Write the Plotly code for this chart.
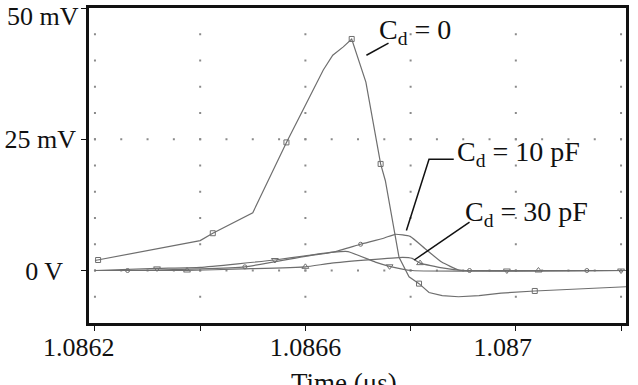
import numpy as np
import plotly.graph_objects as go

# ---------------- data (time in microseconds, voltage in mV) ----------------
# Cd = 0 (square markers)
t_c0 = [1.0862, 1.0864, 1.086424, 1.0865, 1.086564, 1.086634, 1.086652, 1.086672, 1.086688,
        1.086702, 1.086715, 1.086743, 1.086752, 1.086778, 1.086797, 1.086816, 1.086835,
        1.08686, 1.086891, 1.08693, 1.086972, 1.087036, 1.0872094]
v_c0 = [1.9, 5.7, 7.1, 11.0, 24.4, 38.2, 41.0, 42.6, 44.1,
        40.0, 35.9, 20.3, 17.1, 2.5, -1.2, -2.5, -4.2,
        -4.8, -5.0, -4.8, -4.3, -3.9, -3.1]
mt_c0 = [1.086206, 1.086424, 1.086564, 1.086688, 1.086743, 1.086816, 1.087036]
mv_c0 = [2.0, 7.1, 24.4, 44.1, 20.3, -2.5, -3.9]

# Cd = 10 pF (circle markers)
t_c10 = [1.0862, 1.086262, 1.0864, 1.086485, 1.0866, 1.086653, 1.086705, 1.08675,
         1.086771, 1.086799, 1.086827, 1.086859, 1.086891, 1.086903, 1.0872094]
v_c10 = [0.0, 0.0, 0.3, 0.7, 2.7, 3.5, 5.0, 6.2,
         6.9, 6.5, 4.2, 1.6, 0.1, 0.0, 0.0]
mt_c10 = [1.086262, 1.086485, 1.086705, 1.086912, 1.087135]
mv_c10 = [0.0, 0.7, 5.0, 0.0, 0.0]

# unlabeled curve (down-triangle markers)
t_cx = [1.0862, 1.086318, 1.0864, 1.086542, 1.0866, 1.086653, 1.086681, 1.086733,
        1.08676, 1.086803, 1.0872094]
v_cx = [0.0, 0.4, 0.6, 2.0, 2.8, 3.5, 3.6, 1.6,
        0.8, 0.0, 0.0]
mt_cx = [1.086318, 1.086542, 1.08676, 1.086983, 1.0872]
mv_cx = [0.4, 2.0, 0.8, 0.0, 0.0]

# Cd = 30 pF (up-triangle markers)
t_c30 = [1.0862, 1.086375, 1.08648, 1.0866, 1.08665, 1.086785, 1.086803, 1.086818,
         1.08686, 1.086902, 1.0872094]
v_c30 = [0.0, 0.0, 0.3, 0.7, 1.4, 2.5, 2.3, 1.4,
         0.5, 0.0, 0.0]
mt_c30 = [1.086375, 1.0866, 1.086818, 1.087043]
mv_c30 = [0.0, 0.7, 1.4, 0.0]

# axis ticks
x_ticks = [1.0862, 1.0864, 1.0866, 1.0868, 1.0870, 1.0872]
x_ticklabels = ["1.0862\u00a0\u00a0\u00a0\u00a0\u00a0", "", "1.0866", "",
                "1.087\u00a0\u00a0\u00a0\u00a0", ""]
y_ticks = [0, 25, 50]
y_ticklabels = ["0 V\u00a0\u00a0", "25 mV", ""]

# labels with leader lines
lab_text = ["C<sub>d</sub> = 0", "C<sub>d</sub> = 10 pF", "C<sub>d</sub> = 30 pF"]
lab_t = [1.086736, 1.086885, 1.086900]
lab_v = [45.6, 22.2, 10.8]
lead_t = [[1.086716, 1.086758], [1.086792, 1.086835, 1.086882], [1.086807, 1.086912]]
lead_v = [[41.0, 43.3], [7.6, 21.2, 21.2], [2.0, 9.2]]

XR = [1.0861887, 1.0872094]
YR = [-10, 50]
FONT = "Liberation Serif, Times New Roman, serif"
CURVE = "#6e6e6e"

fig = go.Figure()

# dotted grid
gx, gy = [], []
for xv in x_ticks:
    for yv in np.arange(-5, 50, 5):
        gx.append(xv); gy.append(yv)
for yv in [0, 25]:
    for xv in np.arange(x_ticks[0], x_ticks[-1] + 1e-9, 0.00005):
        gx.append(xv); gy.append(yv)
fig.add_trace(go.Scatter(x=gx, y=gy, mode="markers", hoverinfo="skip",
                         marker=dict(size=2, color="#8a8a8a", symbol="square"),
                         showlegend=False))

series = [
    (t_c0, v_c0, mt_c0, mv_c0, "square-open", 5, "linear"),
    (t_c10, v_c10, mt_c10, mv_c10, "circle-open", 4, "spline"),
    (t_cx, v_cx, mt_cx, mv_cx, "triangle-down-open", 6, "spline"),
    (t_c30, v_c30, mt_c30, mv_c30, "triangle-up-open", 6, "spline"),
]
for t, v, mt, mv, sym, sz, shp in series:
    fig.add_trace(go.Scatter(x=t, y=v, mode="lines",
                             line=dict(color=CURVE, width=1.2, shape=shp, smoothing=0.4),
                             showlegend=False, hoverinfo="skip"))
    fig.add_trace(go.Scatter(x=mt, y=mv, mode="markers",
                             marker=dict(symbol=sym, size=sz, color=CURVE, line=dict(width=1, color=CURVE)),
                             showlegend=False, hoverinfo="skip"))

# leader lines
for lt, lv in zip(lead_t, lead_v):
    fig.add_trace(go.Scatter(x=lt, y=lv, mode="lines", line=dict(color="#111111", width=1.5),
                             showlegend=False, hoverinfo="skip"))

for txt, tx, ty in zip(lab_text, lab_t, lab_v):
    fig.add_annotation(x=tx, y=ty, text=txt, showarrow=False, xanchor="left", yanchor="middle",
                       font=dict(family=FONT, size=28, color="#111111"))

fig.add_annotation(x=0, xref="paper", xshift=-8, y=1, yref="paper", yshift=8, text="50 mV",
                   showarrow=False, xanchor="right", yanchor="top",
                   font=dict(family=FONT, size=26, color="#111111"))
fig.add_annotation(x=0.475, xref="paper", y=-0.135, yref="paper", text="Time (\u03bcs)",
                   showarrow=False, xanchor="center", yanchor="top",
                   font=dict(family=FONT, size=27, color="#111111"))

fig.update_xaxes(range=XR, tickvals=x_ticks, ticktext=x_ticklabels, ticks="outside", ticklen=5,
                 tickwidth=1, tickcolor="#111111", showgrid=False, zeroline=False,
                 showline=True, linewidth=2.5, linecolor="#111111", mirror=True,
                 ticklabelstandoff=-6,
                 tickfont=dict(family=FONT, size=26, color="#111111"))
fig.update_yaxes(range=YR, tickvals=y_ticks, ticktext=y_ticklabels, ticks="outside", ticklen=5,
                 tickwidth=1, tickcolor="#111111", showgrid=False, zeroline=False,
                 showline=True, linewidth=2.5, linecolor="#111111", mirror=True,
                 tickfont=dict(family=FONT, size=26, color="#111111"))

fig.update_layout(width=638, height=385, margin=dict(l=83, r=12, t=5, b=62),
                  plot_bgcolor="white", paper_bgcolor="white")

fig.write_html("out.html")
